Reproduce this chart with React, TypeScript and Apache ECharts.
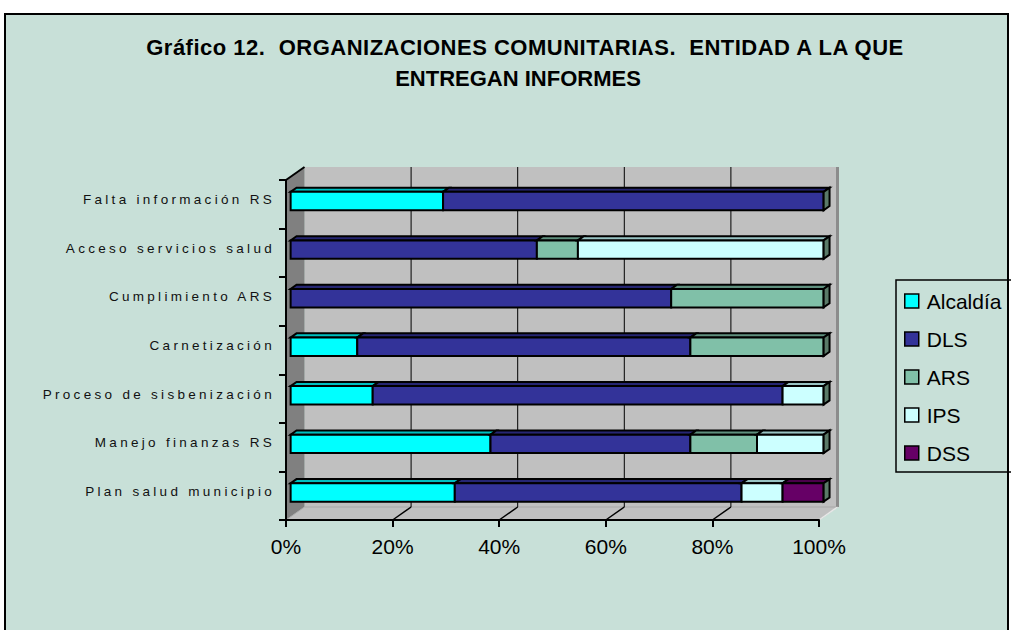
import React, { useEffect, useRef } from 'react';
import * as echarts from 'echarts';

const categories = [
  'Falta información RS',
  'Acceso servicios salud',
  'Cumplimiento ARS',
  'Carnetización',
  'Proceso de sisbenización',
  'Manejo finanzas RS',
  'Plan salud municipio',
];
const seriesNames = ['Alcaldía', 'DLS', 'ARS', 'IPS', 'DSS'];
const alcaldia = [28.6, 0, 0, 12.5, 15.4, 37.5, 30.8];
const dls = [71.4, 46.2, 71.4, 62.5, 76.9, 37.5, 53.8];
const ars = [0, 7.7, 28.6, 25.0, 0, 12.5, 0];
const ips = [0, 46.1, 0, 0, 7.7, 12.5, 7.7];
const dss = [0, 0, 0, 0, 0, 0, 7.7];
const xTicks = [0, 20, 40, 60, 80, 100];
const titleLines = ['Gráfico 12.  ORGANIZACIONES COMUNITARIAS.  ENTIDAD A LA QUE', 'ENTREGAN INFORMES'];

const frontColors = ['#00ffff', '#333399', '#80c0a8', '#ccffff', '#660066'];
const topColors = ['#00c0c0', '#262673', '#5f907e', '#99c4c4', '#4a004a'];
const sideColor = '#5a7a68';
const FONT = '"Liberation Sans", Arial, sans-serif';

const D = [18.5, -13];
const F0 = 0.25;
const F1 = 0.57;
const BAR = 0.38;

function makeBarRender(front: string, top: string) {
  return (params: any, api: any) => {
    const cat = api.value(0);
    const s = api.value(1);
    const e = api.value(2);
    if (!(e - s > 0)) return { type: 'group', children: [] };
    const a = api.coord([s, cat]);
    const b = api.coord([e, cat]);
    const band = api.size([0, 1])[1];
    const h = band * BAR;
    const ox0 = D[0] * F0, oy0 = D[1] * F0, ox1 = D[0] * F1, oy1 = D[1] * F1;
    const yT = a[1] - h / 2;
    const yB = a[1] + h / 2;
    const st = { stroke: '#000', lineWidth: 2, lineJoin: 'miter' };
    const children: any[] = [
      {
        type: 'polygon',
        shape: { points: [[a[0] + ox0, yT + oy0], [b[0] + ox0, yT + oy0], [b[0] + ox1, yT + oy1], [a[0] + ox1, yT + oy1]] },
        style: { fill: top, ...st },
      },
      {
        type: 'rect',
        shape: { x: a[0] + ox0, y: yT + oy0, width: b[0] - a[0], height: h },
        style: { fill: front, ...st },
      },
    ];
    if (e >= 99.95) {
      children.push({
        type: 'polygon',
        shape: { points: [[b[0] + ox0, yT + oy0], [b[0] + ox1, yT + oy1], [b[0] + ox1, yB + oy1], [b[0] + ox0, yB + oy0]] },
        style: { fill: sideColor, ...st },
      });
    }
    return { type: 'group', children };
  };
}

function renderBox(params: any, api: any) {
  const cs = params.coordSys;
  const x0 = cs.x, x1 = cs.x + cs.width, y0 = cs.y, y1 = cs.y + cs.height;
  const bx0 = x0 + D[0], bx1 = x1 + D[0], by0 = y0 + D[1], by1 = y1 + D[1];
  const children: any[] = [
    { type: 'rect', shape: { x: bx0, y: by0, width: bx1 - bx0, height: by1 - by0 }, style: { fill: '#c0c0c0' } },
    { type: 'polygon', shape: { points: [[x0, y0], [bx0, by0], [bx0, by1], [x0, y1]] }, style: { fill: '#808080' } },
    { type: 'polygon', shape: { points: [[x0, y1], [bx0, by1], [bx1, by1], [x1, y1]] }, style: { fill: '#c0c0c0', stroke: '#a8a8a8', lineWidth: 1 } },
    { type: 'line', shape: { x1: bx1, y1: by0, x2: bx1, y2: by1 }, style: { stroke: '#8c8c8c', lineWidth: 3 } },
    { type: 'line', shape: { x1: bx1, y1: by1, x2: x1, y2: y1 }, style: { stroke: '#e8e8e8', lineWidth: 1.5 } },
    { type: 'line', shape: { x1: x0, y1: y0, x2: bx0, y2: by0 }, style: { stroke: '#000', lineWidth: 2 } },
  ];
  xTicks.forEach((v) => {
    if (v === 0 || v === 100) return;
    const fx = api.coord([v, 0])[0];
    children.push({ type: 'line', shape: { x1: fx + D[0], y1: by0, x2: fx + D[0], y2: by1 }, style: { stroke: '#000', lineWidth: 1 } });
    children.push({ type: 'line', shape: { x1: fx + D[0], y1: by1, x2: fx, y2: y1 }, style: { stroke: '#000', lineWidth: 1.5 } });
  });
  return { type: 'group', children };
}

const seriesValues = [alcaldia, dls, ars, ips, dss];

export default function App() {
  const ref = useRef<HTMLDivElement>(null);
  useEffect(() => {
    if (!ref.current) return;
    const chart = echarts.init(ref.current, null, { renderer: 'svg' });
    const cum = categories.map(() => 0);
    const barSeries = seriesNames.map((name, k) => {
      const data = categories.map((_, i) => {
        const s = cum[i];
        const e = s + seriesValues[k][i];
        cum[i] = e;
        return [i, s, e];
      });
      return {
        name,
        type: 'custom',
        renderItem: makeBarRender(frontColors[k], topColors[k]),
        data,
        encode: { x: [1, 2], y: 0 },
        itemStyle: { color: frontColors[k] },
        clip: false,
        silent: true,
        z: 2,
      };
    });
    const option: any = {
      animation: false,
      backgroundColor: '#ffffff',
      graphic: {
        elements: [
          {
            type: 'rect', z: -10, silent: true,
            shape: { x: 5, y: 14, width: 1003, height: 640 },
            style: { fill: '#c8e0d8', stroke: '#000', lineWidth: 2 },
          },
          {
            type: 'rect', z: 10, silent: true,
            shape: { x: 896, y: 280, width: 130, height: 192 },
            style: { fill: 'none', stroke: '#000', lineWidth: 1.5 },
          },
          {
            type: 'text', x: 525, y: 47, z: 10, silent: true,
            style: { text: titleLines[0], font: 'bold 22px ' + FONT, fill: '#000', align: 'center', verticalAlign: 'middle', textAlign: 'center', textVerticalAlign: 'middle' },
          },
          {
            type: 'text', x: 518, y: 78, z: 10, silent: true,
            style: { text: titleLines[1], font: 'bold 22px ' + FONT, fill: '#000', align: 'center', verticalAlign: 'middle', textAlign: 'center', textVerticalAlign: 'middle' },
          },
        ],
      },
      legend: {
        data: seriesNames,
        orient: 'vertical',
        left: 899,
        top: 285,
        icon: 'rect',
        itemWidth: 14,
        itemHeight: 14,
        itemGap: 16,
        itemStyle: { borderColor: '#000', borderWidth: 1.5 },
        textStyle: { fontSize: 21, color: '#000', fontFamily: FONT, lineHeight: 22, padding: [0, 0, 0, 3] },
        selectedMode: false,
      },
      grid: { left: 286, top: 180, width: 533, height: 340 },
      xAxis: {
        type: 'value', min: 0, max: 100, interval: 20, z: 5,
        axisLine: { show: true, lineStyle: { color: '#000', width: 2 } },
        axisTick: { show: true, length: 7, lineStyle: { color: '#000', width: 2 } },
        axisLabel: { formatter: '{value}%', fontSize: 21, color: '#000', margin: 16, fontFamily: FONT },
        splitLine: { show: false },
      },
      yAxis: {
        type: 'category', data: categories, inverse: true, z: 5,
        axisLine: { show: true, lineStyle: { color: '#000', width: 2 } },
        axisTick: { show: true, length: 7, interval: 0, lineStyle: { color: '#000', width: 2 } },
        axisLabel: { interval: 0, fontSize: 13.5, color: '#111', margin: 11, verticalAlign: 'bottom', lineHeight: 9, fontFamily: FONT },
        splitLine: { show: false },
      },
      series: [
        {
          name: 'box',
          type: 'custom',
          renderItem: renderBox,
          data: [[0, 0]],
          encode: { x: 0, y: 1 },
          clip: false,
          silent: true,
          z: 1,
        },
        ...barSeries,
      ],
    };
    chart.setOption(option);
    const applySpacing = () => {
      const texts = ref.current ? ref.current.querySelectorAll('text') : [];
      texts.forEach((t: any) => {
        const s = (t.textContent || '').trim();
        if (categories.indexOf(s) >= 0) {
          t.setAttribute('letter-spacing', '3.3');
        } else if (s === titleLines[0].trim()) {
          t.setAttribute('letter-spacing', '0.5');
        }
      });
    };
    applySpacing();
    chart.on('finished', applySpacing);
    return () => {
      chart.dispose();
    };
  }, []);
  return <div ref={ref} style={{ position: 'absolute', left: 0, top: 0, width: 1011, height: 630 }} />;
}
